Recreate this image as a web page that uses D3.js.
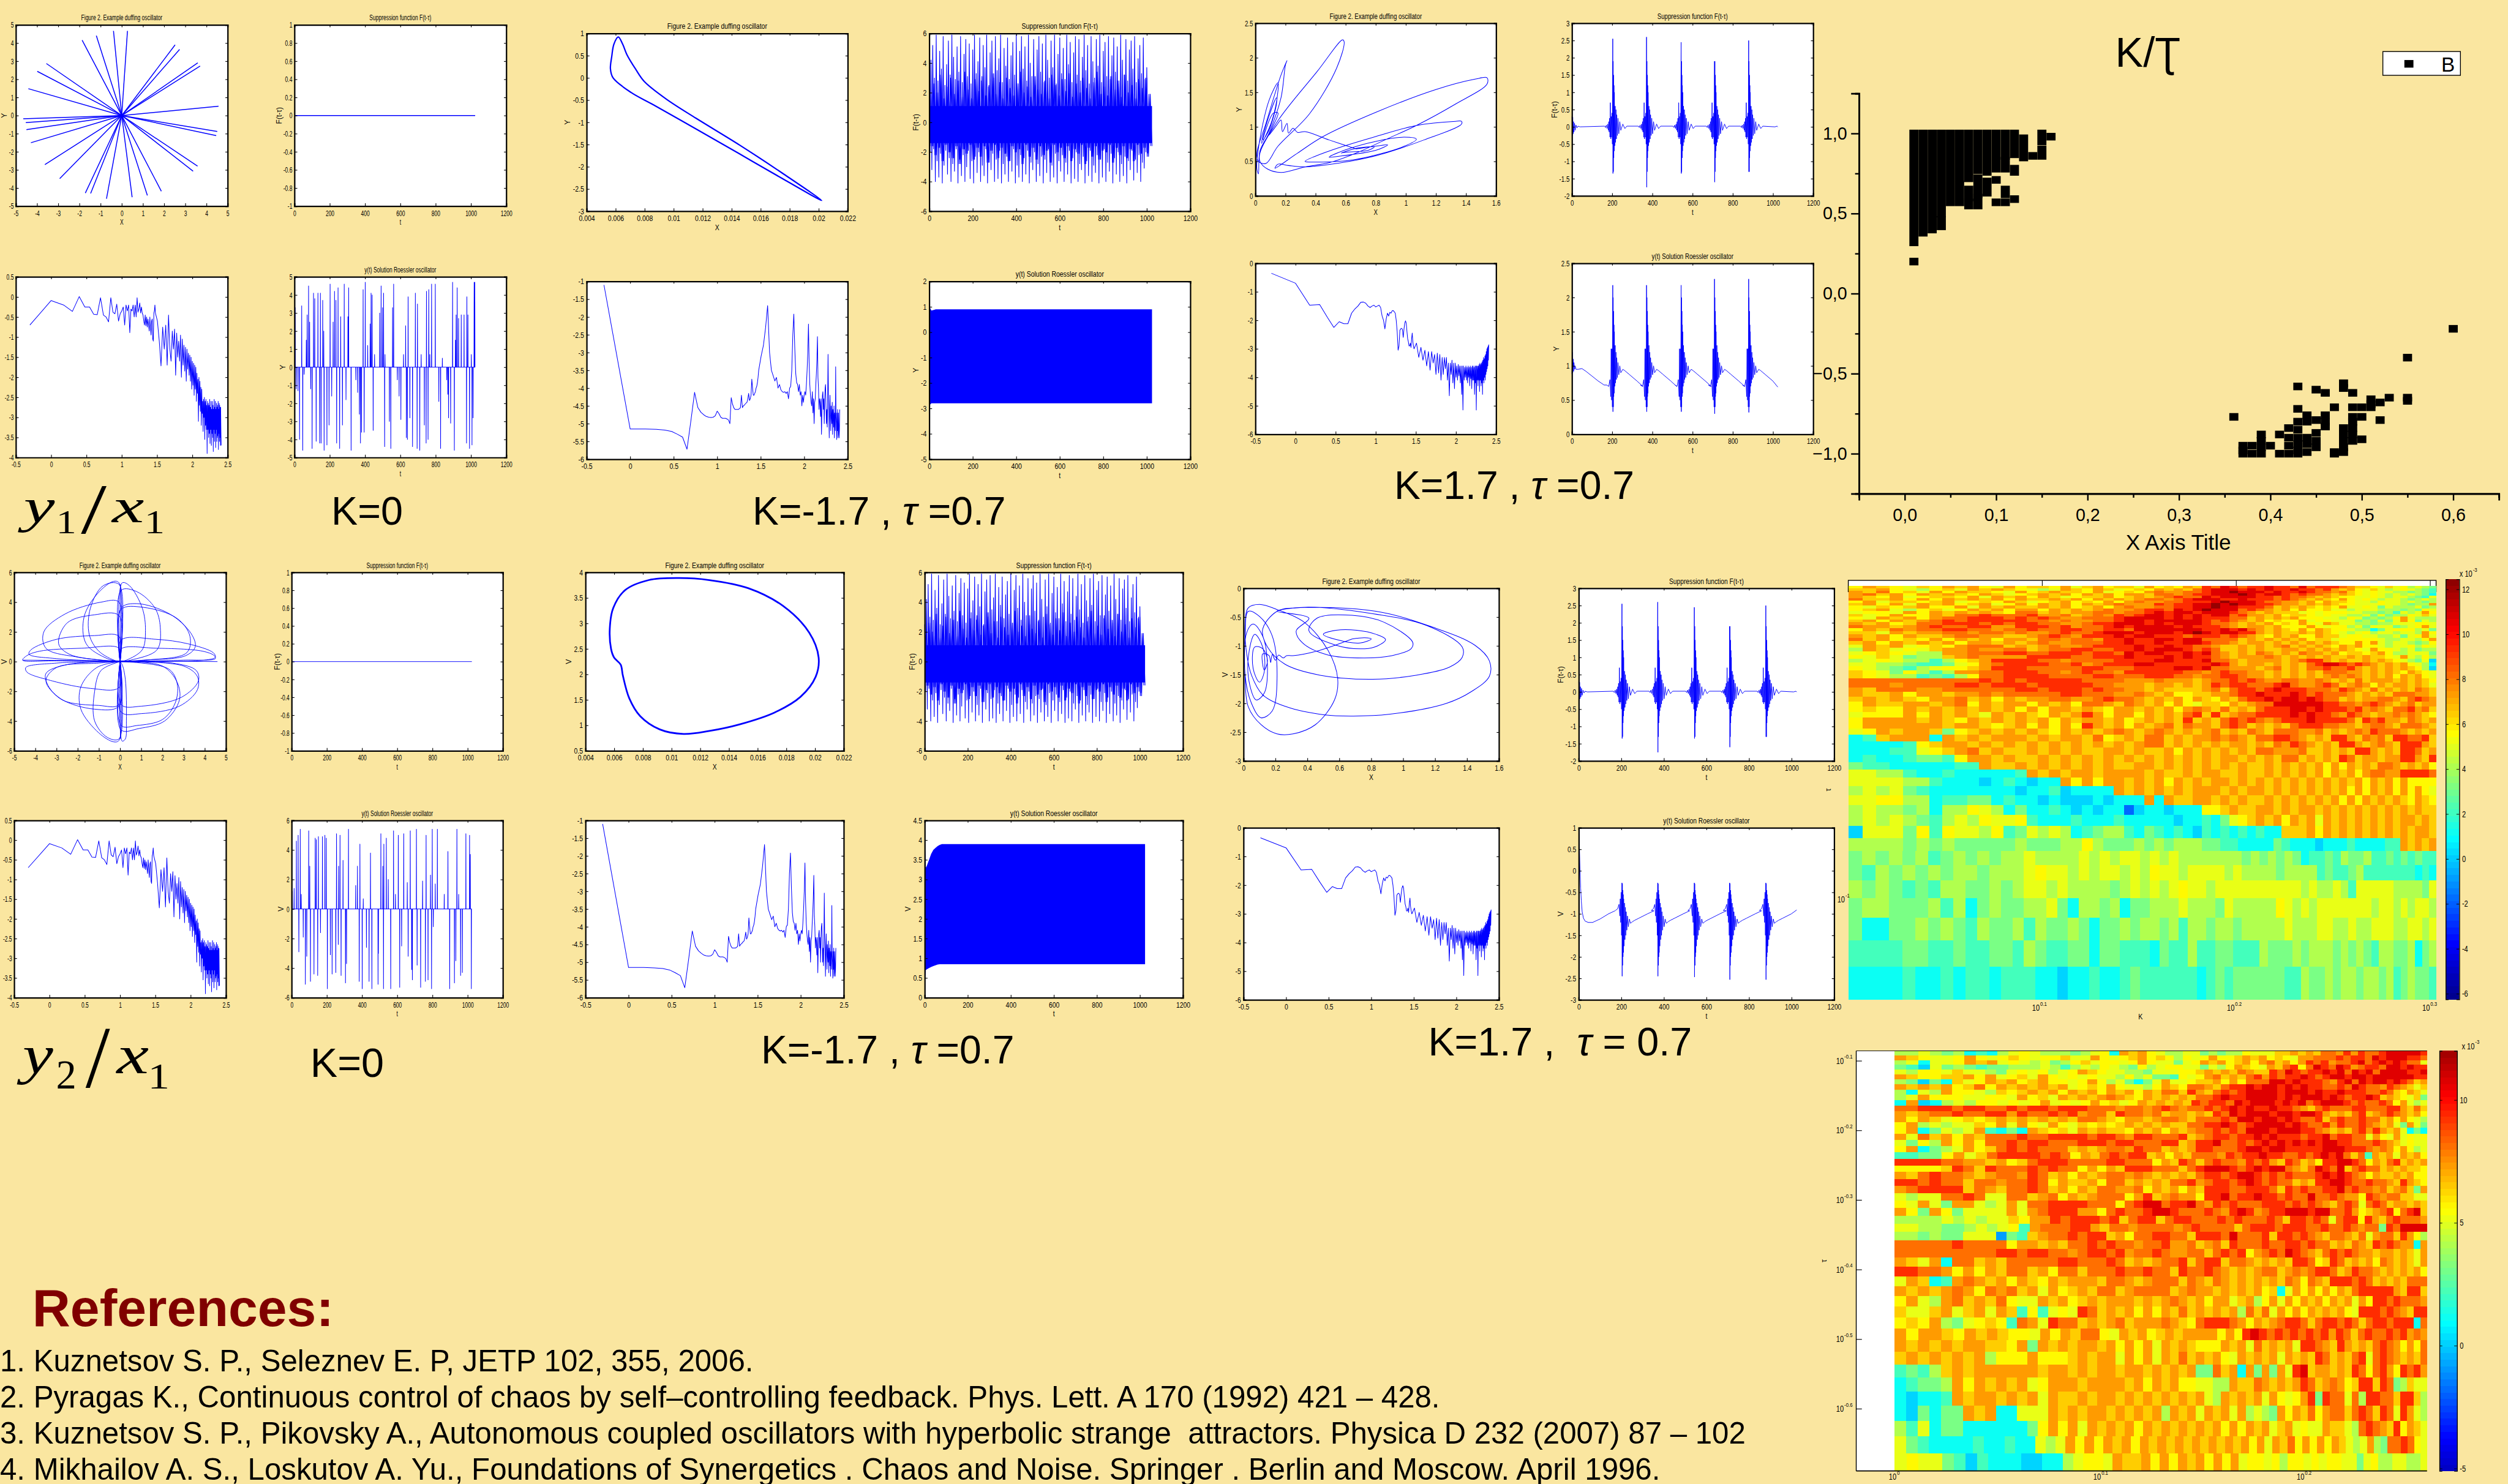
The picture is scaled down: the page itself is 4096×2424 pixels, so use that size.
<!DOCTYPE html>
<html>
<head>
<meta charset="utf-8">
<script src="https://d3js.org/d3.v7.min.js"></script>
<style>
html, body { margin: 0; padding: 0; background: #fae6a0; }
svg { display: block; }
text { font-family: "Liberation Sans", Arial, sans-serif; fill: #000; }
</style>
</head>
<body>
<div id="main"></div>
<script>
const ctx = { w: 4429, h: 2621, pxW: 4096, pxH: 2424 };

// phase portrait K=0, y1/x1: ends of the straight strokes through the origin
const starEnds = [[.27,4.67],[-.39,4.67],[-1.2,4.41],[-1.87,4.16],[-3.56,2.87],[-3.99,2.44],[-4.41,1.48],[-4.65,-.18],[-4.53,-.39],[-4.5,-.78],[-4.29,-1.5],[-3.63,-2.71],[-2.93,-3.48],[-1.72,-4.28],[-1.47,-4.3],[-.72,-4.59],[.49,-4.51],[1.21,-4.41],[1.87,-4.18],[3.37,-3.07],[3.58,-2.79],[4.46,-1.11],[4.51,-.88],[4.57,.51],[3.7,2.73],[3.59,2.91],[2.73,3.65],[2.52,3.9]];

// phase portrait K=0, y2/x1: lobes leaving and coming back to the origin
const flowerLobes = [
  [[0,0],[.1,5.3],[.45,5.1],[1.05,3.6],[1.2,2.1],[1.05,.8],[.3,.1],[0,0]],
  [[0,0],[.05,4.8],[.8,4.7],[1.65,3.6],[1.9,2.3],[1.75,.8],[.5,.1],[0,0]],
  [[0,0],[.05,3.6],[.8,3.9],[2.35,3.2],[3.35,1.9],[3.55,1],[3.1,.4],[1.1,.1],[0,0]],
  [[0,0],[.05,3.5],[1.1,3.65],[2.7,2.9],[3.3,1.7],[3.15,.6],[1.2,.1],[0,0]],
  [[0,0],[.05,1.45],[1.7,1.5],[3.2,1.2],[4.4,.6],[4.5,.3],[4,.1],[1,0],[0,0]],
  [[0,0],[.05,.85],[1.7,.9],[3.9,.7],[4.45,.4],[4.5,.2],[3,.1],[0,0]],
  [[0,0],[-.05,5.3],[-.3,5.4],[-1.05,4.6],[-1.7,3],[-1.6,1.2],[-.6,.2],[0,0]],
  [[0,0],[-.05,5.2],[-.8,5.1],[-1.4,3.6],[-1.45,1.8],[-1,.7],[-.2,.05],[0,0]],
  [[0,0],[-.05,4],[-.9,4],[-2.6,3.2],[-3.6,2],[-3.5,.9],[-2,.3],[0,0]],
  [[0,0],[-.05,3.1],[-1.2,3.15],[-2.5,2.6],[-2.9,1.2],[-2.4,.5],[-.9,.1],[0,0]],
  [[0,0],[-.05,1.7],[-1.2,1.75],[-3,1.5],[-4.2,.8],[-4.3,.5],[-3,.2],[0,0]],
  [[0,0],[-.05,.9],[-1.8,.9],[-3.8,.7],[-4.4,.4],[-4.6,.1],[-3,.05],[0,0]],
  [[0,0],[-.05,-5.3],[-.3,-5.4],[-1,-4.8],[-1.85,-3.2],[-1.85,-1.7],[-1.1,-.4],[0,0]],
  [[0,0],[-.05,-5.2],[-.6,-5.1],[-1.2,-4],[-1.2,-2],[-.9,-.6],[0,0]],
  [[0,0],[-.05,-3],[-1.2,-3.2],[-2.8,-2.5],[-3.5,-1.3],[-3,-.4],[-1,-.1],[0,0]],
  [[0,0],[-.05,-1.75],[-1.4,-1.8],[-3.2,-1.3],[-4.4,-.7],[-4.45,-.4],[-3,-.1],[0,0]],
  [[0,0],[-.05,-2.9],[-1,-2.95],[-2.7,-2.6],[-3.4,-1.6],[-3.5,-.8],[-2.5,-.2],[0,0]],
  [[0,0],[.1,-5.35],[.25,-5.2],[.3,-4],[.25,-1.2],[.1,-.2],[0,0]],
  [[0,0],[.05,-4.3],[.8,-4.3],[2,-3.9],[2.6,-2.8],[2.7,-1.5],[2.3,-.5],[0,0]],
  [[0,0],[.05,-4.6],[.9,-4.5],[2.1,-4],[2.8,-2.6],[2.7,-1.4],[2,-.3],[0,0]],
  [[0,0],[.05,-2.9],[1,-3],[2.9,-2.4],[3.7,-1.3],[3.6,-.6],[2.5,-.1],[0,0]],
  [[0,0],[.05,-3.4],[1,-3.5],[2.8,-3],[3.65,-1.9],[3.65,-1],[3,-.3],[0,0]],
  [[-4.6,.1],[4.6,0]],
  [[.02,5.2],[.02,-5.2]]
];

// phase portraits K=-1.7
const cycleA = [[.02021,-2.76],[.01752,-2.15],[.01454,-1.51],[.01155,-.91],[.00946,-.47],[.00797,-.08],[.00737,.2],[.00678,.52],[.00648,.76],[.00618,.92],[.00588,.76],[.00573,.48],[.00564,.2],[.00582,0],[.00707,-.33],[.00857,-.6],[.01155,-1.15],[.01454,-1.71],[.01752,-2.27]];
const cycleB = [[.00569,2.89],[.00593,3.3],[.00675,3.65],[.00841,3.85],[.01053,3.89],[.01264,3.85],[.01536,3.69],[.01778,3.34],[.01959,2.82],[.02025,2.33],[.02004,1.95],[.01899,1.56],[.01717,1.25],[.01476,1.02],[.01264,.89],[.01083,.83],[.00917,.92],[.00781,1.18],[.00705,1.53],[.0066,1.98],[.00645,2.19],[.00599,2.33],[.00578,2.5]];

// phase portraits K=1.7
const spiralA = [[.67,.68],[.79,.71],[.75,.66],[.59,.63],[.57,.62],[.67,.69],[.8,.72],[.88,.74],[.8,.66],[.54,.57],[.49,.56],[.59,.66],[.8,.79],[.99,.85],[1.07,.82],[.99,.72],[.67,.53],[.41,.49],[.33,.5],[.49,.65],[.8,.86],[1.07,1.02],[1.33,1.08],[1.37,1.08],[1.37,1.04],[1.12,.81],[.8,.58],[.51,.46],[.33,.42],[.22,.44],[.15,.46],[.13,.4],[.28,.62],[.45,.86],[.8,1.21],[1.2,1.54],[1.46,1.69],[1.54,1.71],[1.54,1.62],[1.33,1.33],[1.07,1.02],[.88,.83],[.67,.62],[.49,.48],[.33,.42],[.17,.34],[.08,.39],[.03,.5],[.03,.62],[.15,1.09],[.41,1.8],[.58,2.26],[.59,2.23],[.54,1.85],[.36,1.19],[.15,.72],[.07,.47],[.02,.5],[.01,.62],[.07,1.05],[.17,1.75],[.21,1.96],[.2,1.9],[.17,1.42],[.09,.91],[.03,.65],[.02,.32],[.01,.39],[.02,.69],[.09,1.38],[.15,1.64],[.15,1.52],[.11,1.09],[.04,.76],[.08,1.09],[.14,1.42],[.14,1.33],[.09,.95],[.05,.81],[.12,1.2],[.15,1.2],[.11,.98],[.09,.88],[.14,1.02],[.17,1.1],[.18,.93],[.21,1.05],[.22,.91],[.25,.98],[.28,.92],[.33,.93],[.49,.81],[.67,.68]];
const spiralB = [[.68,-.88],[.76,-.86],[.8,-.88],[.73,-.95],[.58,-.89],[.5,-.8],[.58,-.73],[.71,-.73],[.83,-.8],[.89,-.89],[.84,-1],[.76,-1.05],[.58,-.99],[.41,-.74],[.46,-.52],[.68,-.47],[.88,-.59],[1.06,-.94],[1.05,-1.05],[.93,-1.17],[.76,-1.21],[.53,-1.16],[.37,-.95],[.33,-.74],[.41,-.52],[.21,-.4],[.38,-.33],[.78,-.43],[1.15,-.65],[1.37,-1.02],[1.37,-1.2],[1.29,-1.37],[1.08,-1.51],[.81,-1.58],[.48,-1.51],[.26,-1.32],[.15,-1.02],[.12,-.71],[.21,-.4],[.33,-.34],[.83,-.4],[1.19,-.68],[1.45,-.99],[1.54,-1.26],[1.54,-1.53],[1.43,-1.79],[1.27,-2],[.91,-2.19],[.69,-2.22],[.51,-2.2],[.27,-2.06],[.12,-1.85],[.05,-1.51],[.02,-1.14],[.01,-.65],[.03,-.34],[.1,-.28],[.21,-.37],[.38,-.59],[.53,-1.08],[.59,-1.57],[.57,-1.94],[.45,-2.37],[.31,-2.53],[.21,-2.53],[.11,-2.37],[.03,-2.06],[.01,-1.57],[.01,-.83],[.03,-.4],[.1,-.49],[.18,-.83],[.21,-1.57],[.18,-2.13],[.11,-2.25],[.05,-2],[.01,-1.51],[.02,-.77],[.06,-.62],[.12,-.83],[.15,-1.39],[.13,-1.82],[.08,-1.94],[.04,-1.69],[.03,-1.2],[.07,-.8],[.12,-1.02],[.13,-1.45],[.1,-1.63],[.06,-1.39],[.07,-1.02],[.12,-1.05],[.15,-1.26],[.13,-1.42],[.12,-1.14],[.16,-1.17],[.17,-1.29],[.18,-1.15],[.2,-1.25],[.22,-1.16],[.25,-1.21],[.27,-1.17],[.31,-1.17],[.46,-1.09],[.68,-.88]];

// spectra: the first 60 values are n=1..60, the tail runs on to n=512, x = log10(n/2)
const specAHead = [-.7,-.09,-.2,-.36,.01,-.25,-.25,-.43,-.44,-.02,-.45,-.5,-.62,-.02,-.38,-.42,-.18,-.6,-.42,-.35,-.25,-.7,-.2,-.35,-.2,-.89,-.3,-.35,-.2,-.5,-.2,-.5,-.02,-.38,-.3,-.15,-.4,-.25,-.4,-.45,-.6,-.7,-.45,-.72,-.5,-.75,-.55,-.7,-.85,-.5,-.75,-.95,-.6,-.55,-1.05,-1.1,-.4,-.35,-.2,-.4];
const specATail = [-.6,-1.1,-1.72,-.75,-1.3,-.7,-1.7,-.45,-1.3,-1.6,-.85,-1.3,-.8,-1.95,-.9,-1.5,-1.1,-1.6,-.95,-2,-1.05,-1.7,-1.2,-1.85,-1.25,-2.1,-1.3,-1.8,-1.4,-1.95,-1.45,-2.1,-1.5,-2.3,-1.6,-2.2,-1.65,-2.45,-1.7,-2.3,-1.75,-2.6,-1.9,-2.4,-2.05,-3.1,-2,-2.7,-2.1,-2.85,-2.25,-3.2,-2.3,-2.9,-2.6,-3.35,-2.55,-3,-2.5,-3.55,-2.6,-3.2,-2.55,-3.3,-2.7,-3.9,-2.6,-3.3,-2.65,-3.5,-2.7,-3.4,-2.55,-3.65,-2.75,-3.3,-2.6,-3.7,-2.8,-3.4,-2.6,-3.5,-2.7,-3.85,-2.8,-3.3,-2.55,-3.6,-2.75,-3.4,-2.6,-3.75,-2.8,-3.3,-2.65,-3.6,-2.75,-3.5,-2.7,-3.45,-2.6,-3.8,-2.8,-3.4,-2.65,-3.6,-2.7,-3.5,-2.75,-3.7,-2.75,-3.3,-3.7];
const specBHead = [-1.1,-5.15,-5.15,-5.16,-5.18,-5.22,-5.3,-5.38,-5.72,-4.9,-4.12,-4.55,-4.68,-4.75,-4.8,-4.82,-4.83,-4.82,-4.78,-4.65,-4.72,-4.82,-4.85,-4.85,-4.85,-4.87,-4.9,-5,-4.27,-4.45,-4.55,-4.6,-4.6,-4.6,-4.6,-4.58,-4.55,-4.2,-4.55,-4.5,-4.48,-4.45,-4.42,-4.4,-4.3,-4.15,-4.35,-4.3,-4.2,-3.75,-4,-4.2,-4.2,-4.15,-4.1,-4,-3.95,-3.85,-3.7,-3.5];
const specBTail = [-3.1,-2.8,-2.3,-1.68,-3,-3.5,-3.65,-3.8,-3.7,-4,-3.9,-4.05,-4.1,-4.12,-4.1,-4.15,-4.1,-4.3,-4,-3.95,-3.5,-2.5,-1.92,-2.9,-3.6,-3.85,-3.9,-4.1,-3.9,-4.2,-4.1,-4.5,-4.2,-4.4,-4.2,-4.1,-4.2,-3.9,-3.5,-3,-2.2,-3.3,-3.9,-4.2,-4.4,-4.5,-4.1,-4.7,-4.3,-5,-4.4,-4.3,-3.9,-3.6,-3.2,-2.55,-3.7,-4,-4.6,-4.3,-4.4,-4.8,-4.3,-5.3,-4.6,-4.2,-4.1,-4.6,-4.3,-5,-4.3,-4,-3.9,-4.5,-5,-4.6,-5.1,-4.4,-3.05,-4.2,-4.7,-5.4,-4.6,-4.2,-4.8,-5.2,-4.5,-4.8,-5,-4.4,-5.3,-4.6,-4.8,-5.1,-4.5,-5.4,-4.7,-4.9,-5.2,-3.4,-4.8,-5,-5.45,-4.7,-5.2,-4.6,-5.4,-5.3,-4.7,-5,-5.4,-5.2,-4.6];
const specCHead = [-.35,-.7,-1.47,-1.45,-1.9,-2.25,-2.05,-2.12,-2.12,-1.75,-1.6,-1.5,-1.37,-1.36,-1.4,-1.5,-1.55,-1.5,-1.47,-1.53,-1.5,-1.47,-1.55,-1.85,-2,-2.3,-1.95,-1.75,-1.85,-1.72,-1.75,-1.67,-1.66,-1.7,-1.75,-2,-2.4,-3.05,-2.9,-2.35,-2.3,-2.28,-2.32,-2.6,-2.3,-2.1,-2.02,-2.1,-2.4,-2.65,-2.75,-2.9,-2.9,-2.8,-2.95,-2.65,-2.45,-2.75,-2.9,-3];
const specCTail = [-2.8,-3.3,-2.95,-3.4,-3.05,-3.6,-3.1,-3.75,-3.1,-3.5,-3.2,-3.9,-3.15,-3.85,-3.2,-4.1,-3.3,-3.9,-3.3,-3.7,-3.3,-4.1,-3.5,-4.65,-3.5,-3.9,-3.4,-4.2,-3.5,-4.4,-3.5,-4,-3.6,-4.1,-3.55,-3.95,-3.6,-4.2,-3.6,-4.6,-3.6,-5.15,-3.6,-4.1,-3.65,-4,-3.6,-4.1,-3.65,-4.2,-3.6,-4,-3.65,-4.3,-3.6,-4.05,-3.65,-4.4,-3.6,-4.1,-3.6,-4.1,-3.65,-4.6,-3.6,-4.2,-3.6,-5.15,-3.6,-4.1,-3.6,-4.3,-3.6,-4.1,-3.55,-4.5,-3.5,-4.1,-3.55,-4.3,-3.5,-4.2,-3.45,-4.6,-3.4,-4.1,-3.3,-4.2,-3.35,-4,-3.25,-4.1,-3.2,-3.9,-3.1,-3.8,-3,-3.7,-2.95,-3.6,-2.9,-3.4,-2.85];

// y(t) at K=0: spikes over a zero line, [t, y]
const spikesY1 = [[4,3.3],[10,-1.2],[20,-1.3],[29,-4],[41,3.4],[47,-4.6],[55,-.4],[67,1.5],[72,2.9],[80,4.5],[86,2.5],[92,-1.2],[100,-4.5],[108,4.1],[115,3.8],[123,-4.1],[133,4.1],[143,-4.2],[147,4.1],[151,-4.2],[160,3.7],[166,2],[168,-4.6],[184,-4.3],[196,-3.2],[202,4.6],[211,-1.6],[219,2.5],[227,4.2],[235,3.7],[239,-4.2],[247,4.4],[256,-4.5],[262,2.8],[272,-3.2],[282,4.6],[292,-1.8],[303,2.8],[307,4.4],[321,-4.6],[348,-.7],[358,-1.4],[368,-2.6],[374,-4.2],[380,-3.6],[389,4.3],[395,-3.6],[401,4.7],[415,1.2],[429,2.4],[434,4.1],[440,4],[446,-3.5],[454,.7],[483,3],[491,4.5],[499,3.3],[505,4.1],[511,-4.4],[513,.7],[538,-3],[546,-4.5],[556,3.3],[562,4.6],[583,-.7],[593,-1.6],[603,-2.9],[618,.7],[630,2.3],[634,-3.9],[640,-4],[644,3.9],[654,-2.8],[669,-4.4],[685,4.1],[695,-4.5],[697,3.5],[710,-4.6],[718,.7],[736,-3.2],[746,-4.2],[748,4.2],[757,-4],[761,4.3],[767,.7],[777,4.6],[798,4.6],[818,-1.9],[828,-4.5],[838,.5],[863,-.7],[869,-1.5],[873,-2.8],[885,-3.1],[896,4.7],[906,-4.6],[912,1.5],[916,2.9],[922,4.4],[930,2.7],[945,2.9],[961,2.9],[975,-4.2],[977,3.9],[983,2.9],[992,-4.5],[1002,.7],[1006,-4.3],[1012,-2.8],[1018,4.7],[1022,4.7]];
const spikesY2 = [[4,1.2],[14,1.4],[27,4.6],[37,5],[41,-2.9],[49,5.4],[55,1],[66,-1.9],[78,-5.1],[86,-3.2],[97,5.3],[103,2.9],[107,-4.9],[127,-4.4],[134,4.8],[140,4.7],[148,-4.5],[152,4.9],[164,-1.6],[175,4.9],[189,5],[197,4.8],[203,-5.4],[220,-3.1],[230,-4.4],[251,-4.3],[255,5.1],[265,-2.4],[267,2.9],[275,5],[281,-4.5],[292,3.3],[306,-5],[312,-3.7],[323,5.4],[364,1.6],[374,2.9],[384,-4.9],[388,4.4],[401,-5.4],[407,.7],[425,-2.6],[440,-4.9],[448,3.8],[456,-5.4],[491,-5.1],[493,-3],[507,5.1],[518,2.9],[522,-5.4],[524,4.4],[538,4.8],[549,2],[563,-5.4],[579,5.3],[590,1],[606,5],[614,-5.3],[625,-2.5],[637,5.1],[657,1.8],[662,-3.2],[674,5.3],[682,-4.1],[686,-4.8],[709,5.4],[713,-3.8],[733,-5.3],[744,1.9],[760,-4.9],[764,5],[775,-4.8],[789,2.3],[795,-5.4],[799,5.4],[805,-1.2],[816,1.7],[828,5.4],[867,1],[888,3.9],[898,-5.4],[925,-5],[933,-3.5],[939,5.4],[949,1],[960,-4.5],[970,-4.3],[990,5.1],[1011,5],[1015,3.7],[1021,-5.4]];

// F(t-tau) at K=-1.7: spike tops and bottoms, one pair every 8 of t, over a solid band
const denseFHi = [2.5,4.2,5.2,3,5.9,2.8,4.8,3.6,5.8,2.5,3.9,5.5,3.2,5.9,4.4,2.9,5.1,3.4,5.8,2.7,4.6,5.6,3.1,5.3,2.6,4.9,5.9,3.3,4.1,5.7,2.8,5.2,3.7,5.9,2.4,4.7,5.5,3,5.8,3.5,4.3,5.9,2.7,5,3.8,5.7,2.9,4.5,5.4,3.2,5.9,2.6,4.8,5.8,3.6,5.1,2.8,5.9,4,3.1,5.6,2.5,4.9,5.8,3.4,5.3,2.7,5.9,4.2,3,5.5,3.7,5.9,2.6,4.6,5.7,3.3,5,2.9,5.9,3.9,5.4,2.7,4.7,5.8,3.2,5.6,2.8,4.4,5.9,3.5,5.2,2.6,5.8,4.1,3,5.6,3.8,5.9,2.7,4.8,5.4,3.1,5.8,2.9,4.5,5.7,3.4,5.1,2.6,5.9,4.2,3.2,5.6,2.8,4.9,5.5,3.6,5.8,2.7,4.3,5.2,3.3,5.7,2.9,3.7];
const denseFLo = [-2,-3.2,-1.8,-4,-2.6,-3.7,-2.1,-4.1,-2.9,-1.9,-3.5,-2.4,-4,-2.8,-3.3,-1.8,-4.1,-2.5,-3.6,-2.2,-4,-3,-1.9,-3.8,-2.6,-4.1,-2.3,-3.4,-2,-4,-2.9,-3.6,-1.8,-4.1,-2.7,-3.2,-2.1,-4,-2.5,-3.8,-1.9,-4.1,-2.8,-3.5,-2.3,-4,-2.6,-3.3,-1.8,-4.1,-2.9,-3.7,-2.2,-4,-2.4,-3.5,-1.9,-4.1,-2.7,-3.2,-2,-4,-2.8,-3.6,-2.3,-4.1,-2.5,-3.4,-1.8,-4,-2.9,-3.7,-2.1,-4.1,-2.6,-3.3,-2.2,-4,-2.7,-3.5,-1.9,-4.1,-2.4,-3.8,-2,-4,-2.8,-3.2,-2.3,-4.1,-2.6,-3.6,-1.9,-4,-2.9,-3.4,-2.2,-4.1,-2.5,-3.7,-1.8,-4,-2.7,-3.3,-2.1,-4.1,-2.4,-3.5,-2,-4,-2.8,-3.6,-2.3,-4.1,-2.6,-3.2,-1.9,-3.9,-2.5,-3.4,-2.2,-4,-2.7,-3.1,-2,-2.1];
// lower needles filling in between those spikes
const denseFMidHi = [1.8,2.6,2,3.2,1.6,2.4,3,1.9,2.8,1.7,3.4,2.2,1.6,2.9,2.1,3.1,1.8,2.5,3.3,1.9,2.7,1.6,3,2.3,1.8,2.6,3.4,2,2.4,1.7,3.1,2.2,1.9,2.8,1.6,3.2,2.5,1.8,2.9,2.1,3.3,1.7,2.6,2,3,2.3,1.6,2.7,3.4,1.9,2.4,1.8,3.1,2.2,2.8,1.7,3.2,2,2.5,1.6,2.9,2.3,3,1.9];
const denseFMidLo = [-1.6,-2.2,-1.7,-2.6,-1.5,-2,-2.4,-1.6,-2.8,-1.8,-2.1,-1.5,-2.5,-1.7,-2.3,-1.6,-2.7,-1.9,-1.5,-2.4,-1.7,-2.1,-2.6,-1.6,-2,-1.8,-2.8,-1.5,-2.3,-1.7,-2.5,-1.6,-2.2,-1.9,-2.7,-1.5,-2,-1.7,-2.4,-1.6,-2.6,-1.8,-2.1,-1.5,-2.8,-1.7,-2.3,-1.6,-2.5,-1.9,-2,-1.5,-2.7,-1.7,-2.2,-1.6,-2.4,-1.8,-2.6,-1.5,-2.1,-1.7,-2.3,-1.6];

// y(t) at K=-1.7: filled band, t / lower / upper
const bandAT = [0,4,10,30,1024], bandALo = [-4.2,-2.85,-2.8,-2.8,-2.8], bandAHi = [1,.95,.85,.9,.9];
const bandBT = [0,5,10,20,30,40,50,60,70,80,1024];
const bandBLo = [.3,.7,.72,.75,.78,.8,.82,.84,.85,.85,.85];
const bandBHi = [4.15,3.3,3.35,3.5,3.65,3.75,3.8,3.85,3.88,3.9,3.9];

// K=1.7: five bursts, offsets from burst centre and values
const burstFT = [-40,-36,-32,-28,-25,-22,-20,-18,-16,-14,-12,-10,-8,-6,-4,-2,0,1,2,3,4,5,6,7,8,10,12,14,16,18,20,23,26,30,35,40,50,60,70];
const burstFV = [.02,-.02,.05,-.05,.08,-.1,.15,-.15,.25,-.3,.7,-.35,.3,-.3,.4,-.5,2.55,-1.35,1.9,-1.3,1.5,-.9,1.2,-.7,1,-.55,.6,-.45,.5,-.35,.35,-.25,.25,-.2,.15,-.1,.08,-.05,.02];
const burstCentres = [203,371,543,709,879];
const burstFTops = [2.55,2.6,2.45,1.9,2.5], burstFBots = [-1.35,-1.75,-1.35,-1.6,-1.3];
const burstFStart = [[0,.3],[2,-.25],[4,.28],[6,-.2],[8,.15],[10,-.15],[13,.1],[16,-.1],[20,.05],[25,-.03],[30,.02],[40,0]];
const burstFEnd = [[1010,0],[1020,.02],[1024,0]];

const burstYT = [-30,-20,-14,-10,-8,-6,-4,-2,0,1,2,3,4,5,6,7,8,10,12,14,16,18,20,23,26,30,35,40,50,60,80,120,150];
const burstY1V = [.72,.7,.8,.55,1.25,.5,1.25,.4,2.2,.33,2,.4,1.8,.55,1.6,.6,1.5,.7,1.3,.75,1.2,.8,1.12,.83,1.05,.87,1,.9,.95,.93,.88,.78,.7];
const burstY1Tops = [2.18,2.18,2.18,2.27,2.27], burstY1Bots = [.33,.33,.33,.3,.32];
const burstY1Start = [[0,.88],[2,1.2],[4,.9],[6,1.1],[8,.92],[10,1.05],[13,.95],[16,1],[20,.95],[30,.95],[50,.96],[70,.92],[100,.85],[130,.78],[160,.72]];
const burstY2V = [-.92,-.88,-.78,-1.05,-.65,-1.2,-.5,-1.5,-.28,-2.45,-.3,-2.2,-.45,-2,-.55,-1.9,-.65,-1.75,-.75,-1.6,-.85,-1.5,-.95,-1.38,-1.05,-1.3,-1.12,-1.22,-1.18,-1.15,-1.1,-1,-.93];
const burstY2Tops = [-.28,-.28,-.28,-.28,-.28], burstY2Bots = [-2.45,-2.45,-2.47,-2.53,-2.53];
const burstY2Start = [[0,1],[3,.6],[6,0],[9,-.4],[12,-.7],[16,-.95],[22,-1.1],[30,-1.17],[45,-1.2],[65,-1.2],[100,-1.12],[140,-1],[170,-.93]];

// K/tau scatter: solid stacks [x, ylow, yhigh] and the free points
const scatterStacks = [[.01,.32,1],[.01,.2,.2],[.02,.38,1],[.03,.4,1],[.04,.42,.46],[.04,.5,1],[.05,.57,1],[.06,.57,.68],[.06,.72,1],[.07,.55,.57],[.07,.6,.65],[.07,.72,1],[.08,.55,.6],[.08,.62,.72],[.08,.77,1],[.09,.63,.7],[.09,.76,1],[.1,.57,.57],[.1,.71,.71],[.1,.78,1],[.11,.57,.57],[.11,.62,.65],[.11,.78,.83],[.11,.86,1],[.12,.59,.59],[.12,.76,.78],[.12,.87,1],[.13,.85,.97],[.14,.86,.86],[.15,.86,.9],[.15,.95,1],[.16,.98,.98]];
const scatterPoints = [[.36,-.77],[.37,-.95],[.37,-.98],[.37,-1],[.38,-.95],[.38,-1],[.39,-.88],[.39,-.92],[.39,-.96],[.39,-1],[.4,-.95],[.41,-1],[.41,-.88],[.42,-.84],[.42,-.9],[.42,-.95],[.42,-1],[.43,-.58],[.43,-.72],[.43,-.8],[.43,-.85],[.43,-.9],[.43,-.94],[.43,-.98],[.43,-1],[.44,-.76],[.44,-.8],[.44,-.9],[.44,-.94],[.44,-.99],[.45,-.6],[.45,-.79],[.45,-.87],[.45,-.92],[.45,-.96],[.46,-.62],[.46,-.76],[.46,-.8],[.46,-.83],[.47,-.71],[.47,-.99],[.47,-1],[.48,-.56],[.48,-.59],[.48,-.84],[.48,-.88],[.48,-.92],[.48,-.96],[.48,-.99],[.49,-.62],[.49,-.71],[.49,-.77],[.49,-.8],[.49,-.84],[.49,-.88],[.49,-.92],[.5,-.71],[.5,-.77],[.5,-.91],[.51,-.66],[.51,-.69],[.51,-.71],[.52,-.68],[.52,-.79],[.53,-.65],[.55,-.4],[.55,-.65],[.55,-.67],[.6,-.22]];

// heat maps, one char per cell, top row first; heatLevels gives the value of each char (x 10^-3)
const heatLevels = { 0: -2, 1: -1, 2: 0, 3: 1, 4: 2, 5: 3, 6: 4, 7: 5, 8: 5.5, 9: 6.3, a: 7.2, b: 8, c: 9.2, d: 10.6, e: 12 };
const heatARows = [
"8a98798a9a87a8998a79a8997a898a9cbdcbccdccbdbcccba99879786765",
"99a876897a9a98767a98a97898a9a9bcdddcdcdccdccbca9a87976787654",
"a9b897a8a9987a89a998a7898abaabbcddedddcdccdcbbab987877665654",
"ab9a8a9a98a9789a9a8a9a8aa9bbabccdddedcddcbcbba9a987876767653",
"a98a78998a7a9a8a97899a89a9abcbbdcddddccbcbba9a98877876776547",
"b99a8a8a9a9a8a99a9a8a9a9abbabcdddccdcccbcba9a98a878767765676",
"8a79989a7898a9789a898a8abaabbcccdedddcbbaa9a8a99877687767656",
"9a8a7a9a89a78a8a9a8a9abaaacbccddededdccbaa9a9a9887778776566a",
"87989a88a7a9a99a9a89a8abaabbccddeddcccb9a9a9898a778757666756",
"89a768978a9a8aa8a9a9abaabccbdcdedddbcba9a8a88977677766656587",
"7887a8a9a9a98bb9a9aabbabbcdcddcdddcba9a9997878887766564767a8",
"978a88a9bbcbbbcaab9abacbcddcdcdcddbcaa9a89987877667575668797",
"87a9a8abbcccbcbcbaabbbcddddcdcdcccbb9a9a9a8887768756568a7666",
"9a8a9abcbcccccbbabaabbcddcdddddcbcba9a8988a788777565757a8576",
"a9a89bbcccbcbccbbaabccdddcdcdddcbba9a9a898a87a97766566777887",
"baa9abcbbccaacccbcabbcdcddddcdcccba9aa9a888a87886757775678a7",
"8a9babbccbbabbcbbccbbccbdddddddccdcdba9a98a8a988766357888675",
"997a9aabbabbabaabcbbcdddcdddcdedcddcca9a99a9a9876786776776a8",
"a9a8a99abbaa99abcbacccdcddcccbcccbcba98a9a88a9978877667578a7",
"b9a898a8a9a8aa9bbabbaccdccddcddbbbb9a9a9a9a8997888887667768a",
"9a8a9a9a8aa9a9abaabbbccdccdccddcbba9aa9a9a9a9a988a8a76776568",
"7a9a7898abbb9a9abaabccccdccdccbba99a9a9ab9a9a98a9a8876778687",
"6a97879aabaabb9abbccbbccdcdddcbcb99a9a99aa9a9a9a987a88767566",
"7898766aabbbccbbcccbccbdcddccdcdba9a9ba9a9baa9a89989a8667775",
"87975669abaaaaccccbbcccdcccdcdccba9aaaba9a9a9a99a9a9987a7686",
"6787664689accccbbabbbbccccddcccdbba9aaaa9abcca9a99a9a9876572",
"7766544578abccccbbcabcccddccccccdca9aa9a9a9bcddcbcba9a9a8763",
"8765467889acccbbbbbccbbbccccddcdbbaaa9ab9a9bbcbbca9a9a9a9862",
"98758646aabbcccbbabcbbaccccccbbabcbbaa9a9a9a9bbbaa9a9a98a987",
"9876645468bbccccbbbbccbbbcccbbabbccbaa9a9a9a9ababa9a9a8a9a87",
"bbbbbbbbbbcbcbcccccbbbbaaabaaa9abbcbcbaabbaaba9a9b9aaa9a9a98",
"bbbabbbbccbcccbcccccbbaaa9aa9a9acbccbbbcdbaabcb9aba8a9aa9a97",
"a9bbbaabbbbbbccbcccbcbbaa9a9999ab9bccbcdcccbbbacba9b9a9a9ba9",
"a99a8aa9aababbbbbccbbbaaba9a8899aabccdcccdcbcbbba9a9a9bbbaa9",
"9a9a98aab9a8a9aabbaabcbba9a9a8a98a9bccdcddcdcbb9a9aabba9bcba",
"8a99aa9ab8a9aa8a9a8bba9ba9a8a87998a9abbddddddccbbabcba9ab9aa",
"8988a9a9a9a9a8a8aa9a98aa9a9a8aba9b9a9bcccddcdcccbcaba9bbcab9",
"7888a8a9a97a9a98a9aca8aa8a9a9bc9c9abbccccdcdccbacba9aababa98",
"8aaaa9a98a9a9a9a8a9aa9a89a9a9c9a9bcbcbabcccdccccb9cbcaa9ba9a",
"8aaaaaa9aa989a8a8a8ca9a8a9ab9baa9bcb9a9a9bcccbbaa9abba9bbba9",
"78a9aa9589a9a9a98a9a9aba9aba9a9ab9a9ba9bbbaab9a9abacbbba9a9a",
"349aaa3a9a9aaa9a9aa9b89a9bb9a9aababa9bbccba9a9cca9bab9ccbbc9",
"3333489aa9a9a9a9a9a9a9a9abb9a9a9a9aa9a9bacba9a9cca9aba9ccca9",
"33344789ab9a99a9a9a99aa9a99a8a9a9a9a9bbaaab99a9a9cca9a9ccb9a",
"343345548aa9a99a9a9a9a9a9a9a9a9a9aa9a9a9bb9a9a9cb9aa9aacca9c",
"5443333344a99a9a9a9a9a99aa9a9a9a9a9a99a9a9a9a8a8a9a9bba9a9a8",
"77664334333334a9a9aa9aaaa9a99a9aa99a99a9a9a9a8a9a8abbaaccccb",
"77776643332343233a8a8aa9a9a8a9a9aa9a9a9a9a9a9a9a9a8a9a8a8888",
"6767543333333233423333a9a9a9a9aaa9a9aa9a9a9a9a9a8a8a9a8a8a87",
"7788663445534332322232333a3a99aa9a9a99a9a9a9a9a8a8a9a9a98a98",
"6766563668763533432323302332333889a99aa9a9aa9a9a9a9a9a9a9a99",
"6767654676877843334333433333233435789a9a8a9a7a9a9a9a9a9aa9a9",
"2777584877684576763456643543432434343433999a8a9a9a9a9a9a9aa9",
"6666565655555655566865556565666554433335433323334333344a9a9a",
"5656564565656676666767677676766666665656565344546556445454544",
"5465656566566678776767767687767777676666566664544564444444343",
"6565454665565677676666567676787767777777777676676477777666657",
"5665556463565566753665635566676665766666876767777777677676776",
"5335565654655646556535565665646656656666676667766766777667767",
"4444554454455465445535544435446445544465556566656565466556356",
"3333433434434443323343345444444345455555544655656656656456554"
];
const heatBRows = [
"667656343678766656783a9a87667756566877799a9a9bbacacbbcdddddc",
"a98778a87898788977a8789a8986878a889a9a8987aabbbcbccbdcdddccb",
"673778a9a78767568978878a877578a9a89a8ab9a8acbcabbcdbcdcdcbb7",
"5427565455666764676876586788775768a987a9bc8bdcbdcabccbddcdcc",
"76887977657878678a9877665777889a9a9ba99cbdcbccdcdbdcdbddddccd",
"a98899a8a7897a87878776867554878ab9a9bcacbccdcbcddcddcddddddcc",
"65253978a9a89a8878a8675357a77899a8a8bbbddcdcccbacdbdcddcdcb9a",
"a9a9a89b8a9a9a9a7898a87768a98bba9bccdcddcdcdccbbcbdcbbacba979",
"6376a8876989a9a8a9a8a9a8a9bb9ca9bcbcddddcdddcdccdcccbbcb98a97",
"67a88877887a897a9a9aba98a9a9a9bbcdccddddcdcdddcdcbccdc9a98795",
"3a23676887878a7878a8978a9a9a9cbccbdcdddcdcdbcdddcbcbbcb8a767",
"bbcccbccbbcbccbcccbbbabbabcbabbcbcdcdccdccba9bcbbbccbbbcca9b9",
"a9abbcbbccacbbcbcabb9cbbab9aa9a9cbdcdddcddcddca9a9bc9abcba9a8",
"a8a978989a9a9a9a9bba98aa9abba9bbbcbddcddcdcbbc9bcbbcbb9a8a876",
"8a6767798a7a87a8798989a9a9a99bbccdcbcddddcdcbbcacbbcba9a75a75",
"8a35767a4353a9897a9a998a9a8a9abbcbcbdddcdddccba9a9bcaca9a7353",
"a7b9a8a9bbbcbbccccbccbaccbbbc9abccbccdcdcccbccdbccbb7a87a7878",
"7586a8a8bbcbccbbbcccbccbbbcc9accdbbcbcdcdcdcdcddccbbbcba97877",
"8a3567a89bcbcbbb9a9abbacbb9a9accbbbcddcddcccccdddcccbaba8a867",
"44558a79bccccbcb8a9bcbcc9a8a9bbbacbccdccbbcbcdcdb9b4a9a7a9a8",
"ccccbbaa9a89bcccbbbbccbbb8a9cb9bcbbacbca9cb9a8ccddcb8a9bc9a9a",
"88889cb9cbbbcbcbb8a8a9cccbbb9bcdddcbcdcddba9bdcbd9bcbb9a9a998",
"a9bcbba9abbacb9a8a9abbaba9a9a9bccbcddcbcbcbbbcdcdcba8a99a9a88",
"ccbcbb9bbabbcb8a99a8bb9a9a9bbcabccbcdcbcbb9a9ccddcbbcbba9ca98",
"abcccc9ba9bbcb9a8a9bbaab8a9a8a9cccbbcccb9cbcbbccdbcbbab9ab95a",
"7677bbcb77bb9ab8a9abbb8ac9abaa8ccdbccdccbcbbdbbcbaa8cbabb9977",
"87a75aa767a7bbccccbbb8bcddbccdbacbcbbbcccbcbcba9bcb7bcb9aa9a9",
"a85a857777a7abcccaa8bcbbcddcbbbcbacdcabccdddcddbbca89abc8bcd9",
"666676767798aacbcccbc9bcc9bccbbbcbcbbbcb9ccbcb7bcc8ca9bcbbba",
"776655676784abbbcca9bbabbbbabcbbbb9bcccbcccbbcbbcbabb5cbdddd",
"6656557771549abbcbcc9a8bbccbb9cccbdbbbc9ccbcba9bba9b7abb9ca86",
"bbbbbcbbbb8aa9a9bbcbcbbabbcaab9ab9cbbbcbbccbcbb9a9ba9cbcbaa3a",
"bbbbbbbbbccbccbbabccbcabbcbaabb9bcbc8abcbdcba9bcbcbaa9aa9a97a",
"a97a3bb9a9bbbbbccbbbcb9a9abbc9bcc9bba9a9a9ccb89cb9a9a8ba9a97a",
"ccbba8a8a9bb9a8bb9bbbcbbcbb9cbbcba9a9abb9ababccb9acbba9a9a9a8",
"7a934aba9a8a98a9aaa9bba9abbb9ba9ba9a9a9a9ba8ba9cccbcb9a9a9bbb",
"a9a9aba8bab9a7a89a9bb9abbbb9abaa9a9a9a8937a8a8a8a9bccccca9cc9",
"8a76ab9a9b877a9a89a9aaa9a9aba9a8aa79a68a7a8a9a8a9a7a8ccbcbbba",
"9779a79a7a9484787cb9a9a8a8a9b9a9a9a6b9b7a8a8a9a9a87cccbcba9cc",
"898a6578984ba7cbb9a9ab9aaaba98bcccba8a9abccb9bccbcb9bccbccc3b",
"a8aa98a9a9887a8a9bb87a9a89a9aaaa8a8cdcbcbcbcbcacb9bcbbcbcaba",
"a9a9a9aa998a5a9a9aa9a8a8a7a9a9888a9a7b9a9a7ccba9ca9a9bcba8a8b",
"9a9a9a9a6888a8889a9aa7a8a7a9b9a9a87a9a9a7a9a9cb9a9bc7bcba9a9b",
"45469a9aaaaaa9aa9a9aa9aa9a9a9a55b9a3a5a5a7cd9aa9a9cb8bca8cbca",
"34556a8a9a9a78aaa9aaaa9a8a9a887766a99ba9a9acb9aba89cc9cb56977",
"32334a9aa9a9a7a99a9aa9a9a9a9a9a76a9a9a7a878ac5cbb7b6ccbb9cc96",
"325355a9a33777a9a9aa9a9a9a6a9a7a9a7a6765a8a9b8abb9bcb9cb7ca76",
"64735533333358a8a7a9a9a8a9a9a9a9a8a8a9a79a7877a9976bcba9c8a97",
"7543333433433767a8a8a9a8a9a9a9a9a9a9a8a7a9b8a8a8a9767a65bbcb87",
"78775424333223367887a99a8a8a9a8a8a7887868878788775786677667"
];

const jetStops = [-6.25,-3.9,.8,5.4,10,12.45];
const jetColors = ["#00008f","#0000ff","#00ffff","#ffff00","#ff0000","#800000"];

const refLines = [
  "1. Kuznetsov S. P., Seleznev E. P, JETP 102, 355, 2006.",
  "2. Pyragas K., Continuous control of chaos by self\u2013controlling feedback. Phys. Lett. A 170 (1992) 421 \u2013 428.",
  "3. Kuznetsov S. P., Pikovsky A., Autonomous coupled oscillators with hyperbolic strange  attractors. Physica D 232 (2007) 87 \u2013 102",
  "4. Mikhailov A. S., Loskutov A. Yu., Foundations of Synergetics . Chaos and Noise. Springer . Berlin and Moscow. April 1996."
];

const svg = d3.select("#main").append("svg")
    .attr("width", ctx.pxW)
    .attr("height", ctx.pxH)
    .attr("viewBox", `0 0 ${ctx.w} ${ctx.h}`);
svg.append("rect").attr("width", ctx.w).attr("height", ctx.h).attr("fill", "#fae6a0");

const jet = d3.scaleLinear().domain(jetStops).range(jetColors).clamp(true);

function steps(a, b, s) {
    let n = Math.round((b - a) / s);
    return d3.range(n + 1).map(i => +(a + i * s).toFixed(4));
}

function label(x, y, str, size, opts = {}) {
    return svg.append("text")
        .attr("transform", `translate(${x},${y}) rotate(${opts.rot || 0}) scale(${opts.sx || 1},1)`)
        .attr("font-size", size)
        .attr("text-anchor", opts.anchor || "middle")
        .attr("font-weight", opts.weight || null)
        .attr("font-style", opts.style || null)
        .style("font-family", opts.family || null)
        .style("fill", opts.fill || null)
        .text(str);
}

// matlab style box with ticks inward on all four sides
function drawPanel(p) {
    let sx = (p.x1 - p.x0) / 590;
    let x = d3.scaleLinear().domain(p.xd).range([p.x0, p.x1]);
    let y = d3.scaleLinear().domain(p.yd).range([p.y1, p.y0]);
    let g = svg.append("g");
    g.append("rect").attr("x", p.x0).attr("y", p.y0)
        .attr("width", p.x1 - p.x0).attr("height", p.y1 - p.y0).attr("fill", "#fff");
    let marks = g.append("g");

    let style = sel => {
        sel.select(".domain").attr("stroke-width", 2.4);
        sel.selectAll("line").attr("stroke-width", 1.2);
        sel.selectAll("text").attr("font-size", 14.5)
            .attr("font-family", "Liberation Sans")
            .attr("transform", `scale(${sx},1)`);
    };
    g.append("g").attr("transform", `translate(0,${p.y1})`)
        .call(d3.axisBottom(x).tickValues(p.xt).tickSize(-5).tickPadding(7).tickFormat(String)).call(style);
    g.append("g").attr("transform", `translate(${p.x0},0)`)
        .call(d3.axisLeft(y).tickValues(p.yt).tickSize(-5).tickPadding(6).tickFormat(String)).call(style);
    g.append("g").attr("transform", `translate(0,${p.y0})`)
        .call(d3.axisTop(x).tickValues(p.xt).tickSize(-4).tickFormat("")).call(style);
    g.append("g").attr("transform", `translate(${p.x1},0)`)
        .call(d3.axisRight(y).tickValues(p.yt).tickSize(-4).tickFormat("")).call(style);

    let cx = (p.x0 + p.x1) / 2;
    if (p.title) label(cx, p.y0 - 8, p.title, 14.5, { sx: sx });
    if (p.xl) label(cx, p.y1 + 33, p.xl, 14.5, { sx: sx });
    // yo: how far left of the box the rotated label sits
    if (p.yl) label(p.x0 - p.yo + 5, (p.y0 + p.y1) / 2, p.yl, 13, { rot: -90 });
    return { x, y, marks };
}

function drawLine(panel, pts, width, curve) {
    let line = d3.line().x(d => panel.x(d[0])).y(d => panel.y(d[1]));
    if (curve) line.curve(curve);
    panel.marks.append("path").datum(pts).attr("d", line)
        .attr("fill", "none").attr("stroke", "#0000ff").attr("stroke-width", width)
        .attr("stroke-linejoin", "round");
}

function drawBand(panel, ts, lo, hi) {
    let area = d3.area().x((d, i) => panel.x(ts[i])).y0((d, i) => panel.y(lo[i])).y1((d, i) => panel.y(hi[i]));
    panel.marks.append("path").datum(ts).attr("d", area).attr("fill", "#0000ff");
}

function specPoints(head, tail) {
    let pts = head.map((v, i) => [Math.log10((i + 1) / 2), v]);
    tail.forEach((v, j) => pts.push([Math.log10((60 + 452 * (j + 1) / tail.length) / 2), v]));
    return pts;
}

function spikePoints(spikes) {
    let pts = [[0, 0]];
    spikes.forEach(d => { pts.push([d[0] - .8, 0], d, [d[0] + .8, 0]); });
    pts.push([1024, 0]);
    return pts;
}

function hiLoPoints(hi, lo, dt, t0) {
    let pts = [];
    hi.forEach((v, i) => { pts.push([t0 + i * dt, v], [t0 + i * dt + dt / 2, lo[i]]); });
    return pts;
}

function drawDenseF(p) {
    drawBand(p, [0, 1024], [-1.4, -1.4], [1.1, 1.1]);
    drawLine(p, hiLoPoints(denseFMidHi, denseFMidLo, 16, 2), 1.2);
    drawLine(p, hiLoPoints(denseFMidHi, denseFMidLo, 16, 8), 1.2);
    drawLine(p, hiLoPoints(denseFHi, denseFLo, 8, 0), 1.2);
}

function burstPoints(start, offs, vals, tops, bots, end) {
    let hiIdx = d3.maxIndex(vals), loIdx = d3.minIndex(vals);
    let pts = start.slice();
    burstCentres.forEach((c, i) => {
        offs.forEach((o, j) => {
            let v = j == hiIdx ? tops[i] : (j == loIdx ? bots[i] : vals[j]);
            pts.push([c + o, v]);
        });
    });
    pts = pts.filter(d => d[0] <= 1024);
    return end ? pts.concat(end) : pts;
}

const T_TICKS = steps(0, 1200, 200);
const titleA = "Figure 2. Example duffing oscillator";
const titleB = "Suppression function F(t-\u03c4)";
const titleC = "y(t) Solution Roessler oscillator";
const SMOOTH = d3.curveCatmullRom.alpha(.5);

function createCharts() {
    // ---- top row, K=0
    let p = drawPanel({ x0: 28, x1: 402, y0: 44, y1: 364, xd: [-5, 5], yd: [-5, 5], xt: steps(-5, 5, 1), yt: steps(-5, 5, 1), title: titleA, xl: "X", yl: "Y", yo: 21 });
    starEnds.forEach(e => drawLine(p, [[0, 0], e], 1.6));
    p = drawPanel({ x0: 520, x1: 894, y0: 44, y1: 364, xd: [0, 1200], yd: [-1, 1], xt: T_TICKS, yt: steps(-1, 1, .2), title: titleB, xl: "t", yl: "F(t-\u03c4)", yo: 28 });
    drawLine(p, [[0, 0], [1024, 0]], 1.6);
    p = drawPanel({ x0: 28, x1: 402, y0: 489, y1: 808, xd: [-.5, 2.5], yd: [-4, .5], xt: steps(-.5, 2.5, .5), yt: steps(-4, .5, .5) });
    drawLine(p, specPoints(specAHead, specATail), 1.1);
    p = drawPanel({ x0: 520, x1: 894, y0: 489, y1: 808, xd: [0, 1200], yd: [-5, 5], xt: T_TICKS, yt: steps(-5, 5, 1), title: titleC, xl: "t", yl: "Y", yo: 21 });
    drawLine(p, spikePoints(spikesY1), 1.1);

    // ---- top row, K=-1.7
    p = drawPanel({ x0: 1036, x1: 1497, y0: 59, y1: 373, xd: [.004, .022], yd: [-3, 1], xt: steps(.004, .022, .002), yt: steps(-3, 1, .5), title: titleA, xl: "X", yl: "Y", yo: 34 });
    drawLine(p, cycleA, 2.4, d3.curveCatmullRomClosed.alpha(.5));
    p = drawPanel({ x0: 1641, x1: 2102, y0: 59, y1: 373, xd: [0, 1200], yd: [-6, 6], xt: T_TICKS, yt: steps(-6, 6, 2), title: titleB, xl: "t", yl: "F(t-\u03c4)", yo: 24 });
    drawDenseF(p);
    p = drawPanel({ x0: 1036, x1: 1497, y0: 497, y1: 811, xd: [-.5, 2.5], yd: [-6, -1], xt: steps(-.5, 2.5, .5), yt: steps(-6, -1, .5) });
    drawLine(p, specPoints(specBHead, specBTail), 1.1);
    p = drawPanel({ x0: 1641, x1: 2102, y0: 497, y1: 811, xd: [0, 1200], yd: [-5, 2], xt: T_TICKS, yt: steps(-5, 2, 1), title: titleC, xl: "t", yl: "Y", yo: 24 });
    drawBand(p, bandAT, bandALo, bandAHi);

    // ---- top row, K=1.7
    p = drawPanel({ x0: 2217, x1: 2642, y0: 41, y1: 346, xd: [0, 1.6], yd: [0, 2.5], xt: steps(0, 1.6, .2), yt: steps(0, 2.5, .5), title: titleA, xl: "X", yl: "Y", yo: 29 });
    drawLine(p, spiralA, 1.1, SMOOTH);
    p = drawPanel({ x0: 2776, x1: 3202, y0: 41, y1: 346, xd: [0, 1200], yd: [-2, 3], xt: T_TICKS, yt: steps(-2, 3, .5), title: titleB, xl: "t", yl: "F(t-\u03c4)", yo: 31 });
    drawLine(p, burstPoints(burstFStart, burstFT, burstFV, burstFTops, burstFBots, burstFEnd), 1);
    p = drawPanel({ x0: 2217, x1: 2642, y0: 465, y1: 767, xd: [-.5, 2.5], yd: [-6, 0], xt: steps(-.5, 2.5, .5), yt: steps(-6, 0, 1) });
    drawLine(p, specPoints(specCHead, specCTail), 1.1);
    p = drawPanel({ x0: 2776, x1: 3202, y0: 465, y1: 767, xd: [0, 1200], yd: [0, 2.5], xt: T_TICKS, yt: steps(0, 2.5, .5), title: titleC, xl: "t", yl: "Y", yo: 28 });
    drawLine(p, burstPoints(burstY1Start, burstYT, burstY1V, burstY1Tops, burstY1Bots, [[1024, .69]]), 1);

    // ---- second row, K=0
    p = drawPanel({ x0: 25, x1: 399, y0: 1011, y1: 1326, xd: [-5, 5], yd: [-6, 6], xt: steps(-5, 5, 1), yt: steps(-6, 6, 2), title: titleA, xl: "X", yl: "V", yo: 18 });
    flowerLobes.forEach(l => drawLine(p, l, 1, SMOOTH));
    p = drawPanel({ x0: 515, x1: 888, y0: 1011, y1: 1326, xd: [0, 1200], yd: [-1, 1], xt: T_TICKS, yt: steps(-1, 1, .2), title: titleB, xl: "t", yl: "F(t-\u03c4)", yo: 26 });
    drawLine(p, [[0, 0], [1024, 0]], 1);
    p = drawPanel({ x0: 25, x1: 399, y0: 1449, y1: 1762, xd: [-.5, 2.5], yd: [-4, .5], xt: steps(-.5, 2.5, .5), yt: steps(-4, .5, .5) });
    drawLine(p, specPoints(specAHead, specATail), 1.1);
    p = drawPanel({ x0: 515, x1: 888, y0: 1449, y1: 1762, xd: [0, 1200], yd: [-6, 6], xt: T_TICKS, yt: steps(-6, 6, 2), title: titleC, xl: "t", yl: "V", yo: 19 });
    drawLine(p, spikePoints(spikesY2), 1.1);

    // ---- second row, K=-1.7
    p = drawPanel({ x0: 1034, x1: 1490, y0: 1011, y1: 1326, xd: [.004, .022], yd: [.5, 4], xt: steps(.004, .022, .002), yt: steps(.5, 4, .5), title: titleA, xl: "X", yl: "V", yo: 30 });
    drawLine(p, cycleB, 3, d3.curveCatmullRomClosed.alpha(.5));
    p = drawPanel({ x0: 1633, x1: 2089, y0: 1011, y1: 1326, xd: [0, 1200], yd: [-6, 6], xt: T_TICKS, yt: steps(-6, 6, 2), title: titleB, xl: "t", yl: "F(t-\u03c4)", yo: 23 });
    drawDenseF(p);
    p = drawPanel({ x0: 1034, x1: 1490, y0: 1449, y1: 1762, xd: [-.5, 2.5], yd: [-6, -1], xt: steps(-.5, 2.5, .5), yt: steps(-6, -1, .5) });
    drawLine(p, specPoints(specBHead, specBTail), 1.1);
    p = drawPanel({ x0: 1633, x1: 2089, y0: 1449, y1: 1762, xd: [0, 1200], yd: [0, 4.5], xt: T_TICKS, yt: steps(0, 4.5, .5), title: titleC, xl: "t", yl: "V", yo: 30 });
    drawBand(p, bandBT, bandBLo, bandBHi);

    // ---- second row, K=1.7
    p = drawPanel({ x0: 2196, x1: 2647, y0: 1039, y1: 1344, xd: [0, 1.6], yd: [-3, 0], xt: steps(0, 1.6, .2), yt: steps(-3, 0, .5), title: titleA, xl: "X", yl: "V", yo: 33 });
    drawLine(p, spiralB, 1.1, SMOOTH);
    p = drawPanel({ x0: 2788, x1: 3239, y0: 1039, y1: 1344, xd: [0, 1200], yd: [-2, 3], xt: T_TICKS, yt: steps(-2, 3, .5), title: titleB, xl: "t", yl: "F(t-\u03c4)", yo: 32 });
    drawLine(p, burstPoints(burstFStart, burstFT, burstFV, burstFTops, burstFBots, burstFEnd), 1);
    p = drawPanel({ x0: 2196, x1: 2647, y0: 1462, y1: 1766, xd: [-.5, 2.5], yd: [-6, 0], xt: steps(-.5, 2.5, .5), yt: steps(-6, 0, 1) });
    drawLine(p, specPoints(specCHead, specCTail), 1.1);
    p = drawPanel({ x0: 2788, x1: 3239, y0: 1462, y1: 1766, xd: [0, 1200], yd: [-3, 1], xt: T_TICKS, yt: steps(-3, 1, .5), title: titleC, xl: "t", yl: "V", yo: 32 });
    drawLine(p, burstPoints(burstY2Start, burstYT, burstY2V, burstY2Tops, burstY2Bots, [[1024, -.91]]), 1);
}

function drawCaptions() {
    let cap = (x, y, a, b, size) => {
        let t = svg.append("text").attr("x", x).attr("y", y).attr("font-size", size || 70)
            .style("white-space", "pre");
        t.append("tspan").text(a);
        if (b) {
            t.append("tspan").attr("font-style", "italic").text("\u03c4");
            t.append("tspan").text(b);
        }
    };
    cap(585, 927, "K=0");
    cap(1329, 927, "K=-1.7 , ", " =0.7", 69.5);
    cap(2462, 881, "K=1.7 , ", " =0.7", 69.5);
    cap(548, 1902, "K=0", null, 72);
    cap(1344, 1878, "K=-1.7 , ", " =0.7", 69.5);
    cap(2522, 1864, "K=1.7 ,  ", " = 0.7", 70);

    let serif = "Liberation Serif";
    let it = (x, y, s, size, sx) => label(x, y, s, size, { anchor: "start", style: "italic", family: serif, sx: sx });
    let up = (x, y, s, size, sx) => label(x, y, s, size, { anchor: "start", family: serif, sx: sx });
    it(42, 922, "y", 85, 1.45);
    up(99, 942, "1", 60, 1.2);
    up(143, 942, "/", 125, 1.3);
    it(198, 922, "x", 85, 1.5);
    up(255, 942, "1", 60, 1.2);
    it(40, 1896, "y", 97, 1.25);
    up(99, 1922, "2", 72, 1);
    up(151, 1920, "/", 155, 1);
    it(206, 1896, "x", 97, 1.32);
    up(261, 1922, "1", 64, 1.2);

    label(57, 2342, "References:", 93, { anchor: "start", weight: "bold", fill: "#800000" });
    refLines.forEach((s, i) => {
        svg.append("text").attr("x", 0).attr("y", 2422 + i * 64).attr("font-size", 53.2)
            .style("white-space", "pre").text(s);
    });
}

function drawScatter() {
    let x = d3.scaleLinear().domain([-.05, .65]).range([3283, 4413]);
    let y = d3.scaleLinear().domain([-1.25, 1.25]).range([872, 165]);
    let g = svg.append("g");
    let mw = 8, mh = 6.7;
    g.selectAll("rect.stack").data(scatterStacks).join("rect").attr("class", "stack")
        .attr("x", d => x(d[0]) - mw).attr("width", mw * 2)
        .attr("y", d => y(d[2]) - mh).attr("height", d => y(d[1]) - y(d[2]) + mh * 2);
    g.selectAll("rect.pt").data(scatterPoints).join("rect").attr("class", "pt")
        .attr("x", d => x(d[0]) - mw).attr("width", mw * 2)
        .attr("y", d => y(d[1]) - mh).attr("height", mh * 2);

    let comma = d => d3.format(".1f")(d).replace(".", ",");
    let style = sel => {
        sel.select(".domain").attr("stroke-width", 3);
        sel.selectAll("line").attr("stroke-width", 2.6);
        sel.selectAll("text").attr("font-size", 31).attr("font-family", "Liberation Sans");
    };
    g.append("g").attr("transform", "translate(0,872)")
        .call(d3.axisBottom(x).tickValues(steps(0, .6, .1)).tickSize(12).tickPadding(14).tickFormat(comma)).call(style);
    g.append("g").attr("transform", "translate(3283,0)")
        .call(d3.axisLeft(y).tickValues(steps(-1, 1, .5)).tickSize(14).tickPadding(7).tickFormat(comma)).call(style);
    // minor ticks
    g.append("g").attr("transform", "translate(0,872)")
        .call(d3.axisBottom(x).tickValues(steps(-.05, .65, .1)).tickSize(7).tickFormat("")).call(style);
    g.append("g").attr("transform", "translate(3283,0)")
        .call(d3.axisLeft(y).tickValues(steps(-1.25, 1.25, .5)).tickSize(7).tickFormat("")).call(style);

    label(3847, 971, "X Axis Title", 38);
    label(3793, 118, "K/\u01ae", 74);
    svg.append("rect").attr("x", 4208).attr("y", 91).attr("width", 137).attr("height", 42)
        .attr("fill", "#fff").attr("stroke", "#000").attr("stroke-width", 1.5);
    svg.append("rect").attr("x", 4246).attr("y", 106).attr("width", 16).attr("height", 13.4);
    label(4323, 126, "B", 36);
}

function powerLabel(x, y, base, exp, size) {
    label(x, y, base, size, { anchor: "end", sx: .8 });
    label(x + 1, y - size * .6, exp, size * .7, { anchor: "start", sx: .8 });
}

function drawCells(rows, kx, ky, tauTop, tauBot) {
    let tauOf = d3.scaleLinear().domain([0, rows.length]).range([tauTop, tauBot]);
    let [k0, k1] = kx.domain();
    let cells = [];
    rows.forEach((row, r) => {
        let kOf = d3.scaleLinear().domain([0, row.length]).range([k0, k1]);
        row.split("").forEach((ch, c) => {
            cells.push({ a: kOf(c), b: kOf(c + 1), top: tauOf(r), bot: tauOf(r + 1), v: heatLevels[ch] });
        });
    });
    svg.append("g").attr("shape-rendering", "crispEdges")
        .selectAll("rect").data(cells).join("rect")
        .attr("x", d => kx(d.a)).attr("width", d => kx(d.b) - kx(d.a) + .6)
        .attr("y", d => ky(d.top)).attr("height", d => ky(d.bot) - ky(d.top) + .6)
        .attr("fill", d => jet(d.v));
}

function drawColorbar(x0, x1, scale, ticks) {
    let [lo, hi] = scale.domain();
    let levels = d3.range(64).map(i => lo + (hi - lo) * i / 64);
    svg.append("g").attr("shape-rendering", "crispEdges")
        .selectAll("rect").data(levels).join("rect")
        .attr("x", x0).attr("width", x1 - x0)
        .attr("y", d => scale(d + (hi - lo) / 64)).attr("height", (scale.range()[0] - scale.range()[1]) / 64 + .6)
        .attr("fill", d => jet(d));
    let style = sel => {
        sel.select(".domain").attr("stroke-width", 1.5);
        sel.selectAll("line").attr("stroke-width", 1);
        sel.selectAll("text").attr("font-size", 15).attr("font-family", "Liberation Sans")
            .attr("transform", "scale(.8,1)");
    };
    svg.append("g").attr("transform", `translate(${x1},0)`)
        .call(d3.axisRight(scale).tickValues(ticks).tickSize(-5).tickPadding(6).tickFormat(String)).call(style);
    svg.append("g").attr("transform", `translate(${x0},0)`)
        .call(d3.axisLeft(scale).tickValues(ticks).tickSize(-5).tickFormat("")).call(style);
}

function drawHeatmaps() {
    // upper map
    let kA = d3.scaleLog().domain([1, Math.pow(10, .303)]).range([3264, 4302]);
    let tA = d3.scaleLog().domain([.0514, .81]).range([1765, 1035]);
    svg.append("rect").attr("x", 3264).attr("y", 1025).attr("width", 1038).attr("height", 20)
        .attr("fill", "#fff").attr("stroke", "#000").attr("stroke-width", 1.5);
    [.1, .2, .3].forEach(e => {
        let tx = kA(Math.pow(10, e));
        svg.append("line").attr("x1", tx).attr("x2", tx).attr("y1", 1025).attr("y2", 1036)
            .attr("stroke", "#000").attr("stroke-width", 1.2);
    });
    drawCells(heatARows, kA, tA, .81, .0514);
    powerLabel(3602, 1785, "10", "0.1", 15);
    powerLabel(3946, 1785, "10", "0.2", 15);
    powerLabel(4291, 1785, "10", "0.3", 15);
    label(3780, 1800, "K", 14.5, { sx: .8 });
    label(3233, 1395, "\u03c4", 13, { rot: -90 });
    powerLabel(3258, 1594, "10", "-1", 15);
    let cA = d3.scaleLinear().domain([-6.25, 12.45]).range([1765, 1023]);
    drawColorbar(4319, 4343, cA, steps(-6, 12, 2));
    powerLabel(4366, 1019, "x 10", "-3", 15);

    // lower map
    let kB = d3.scaleLog().domain([1, Math.pow(10, .262)]).range([3345, 4286]);
    let tB = d3.scaleLog().domain([.2046, .8215]).range([2598, 1856]);
    svg.append("rect").attr("x", 3278).attr("y", 1856).attr("width", 1008).attr("height", 742).attr("fill", "#fff");
    drawCells(heatBRows, kB, tB, .8215, .2046);
    let line = (x1, y1, x2, y2, w) => svg.append("line").attr("x1", x1).attr("y1", y1).attr("x2", x2).attr("y2", y2)
        .attr("stroke", "#000").attr("stroke-width", w);
    line(3278, 1856, 4286, 1856, 1);
    line(3278, 1856, 3278, 2598, 1.5);
    line(3278, 2598, 4286, 2598, 2);
    [-.1, -.2, -.3, -.4, -.5, -.6].forEach(e => {
        let ty = tB(Math.pow(10, e));
        line(3278, ty, 3288, ty, 1.2);
        powerLabel(3256, ty + 5, "10", String(e), 15);
    });
    [0, .1, .2].forEach(e => powerLabel(e == 0 ? 3349 : kB(Math.pow(10, e)) + 6, 2614, "10", String(e), 15));
    label(3226, 2227, "\u03c4", 13, { rot: -90 });
    let cB = d3.scaleLinear().domain([-5.1, 12]).range([2598, 1856]);
    drawColorbar(4308, 4339, cB, [-5, 0, 5, 10]);
    powerLabel(4370, 1853, "x 10", "-3", 15);
}

createCharts();
drawCaptions();
drawScatter();
drawHeatmaps();
</script>
</body>
</html>
